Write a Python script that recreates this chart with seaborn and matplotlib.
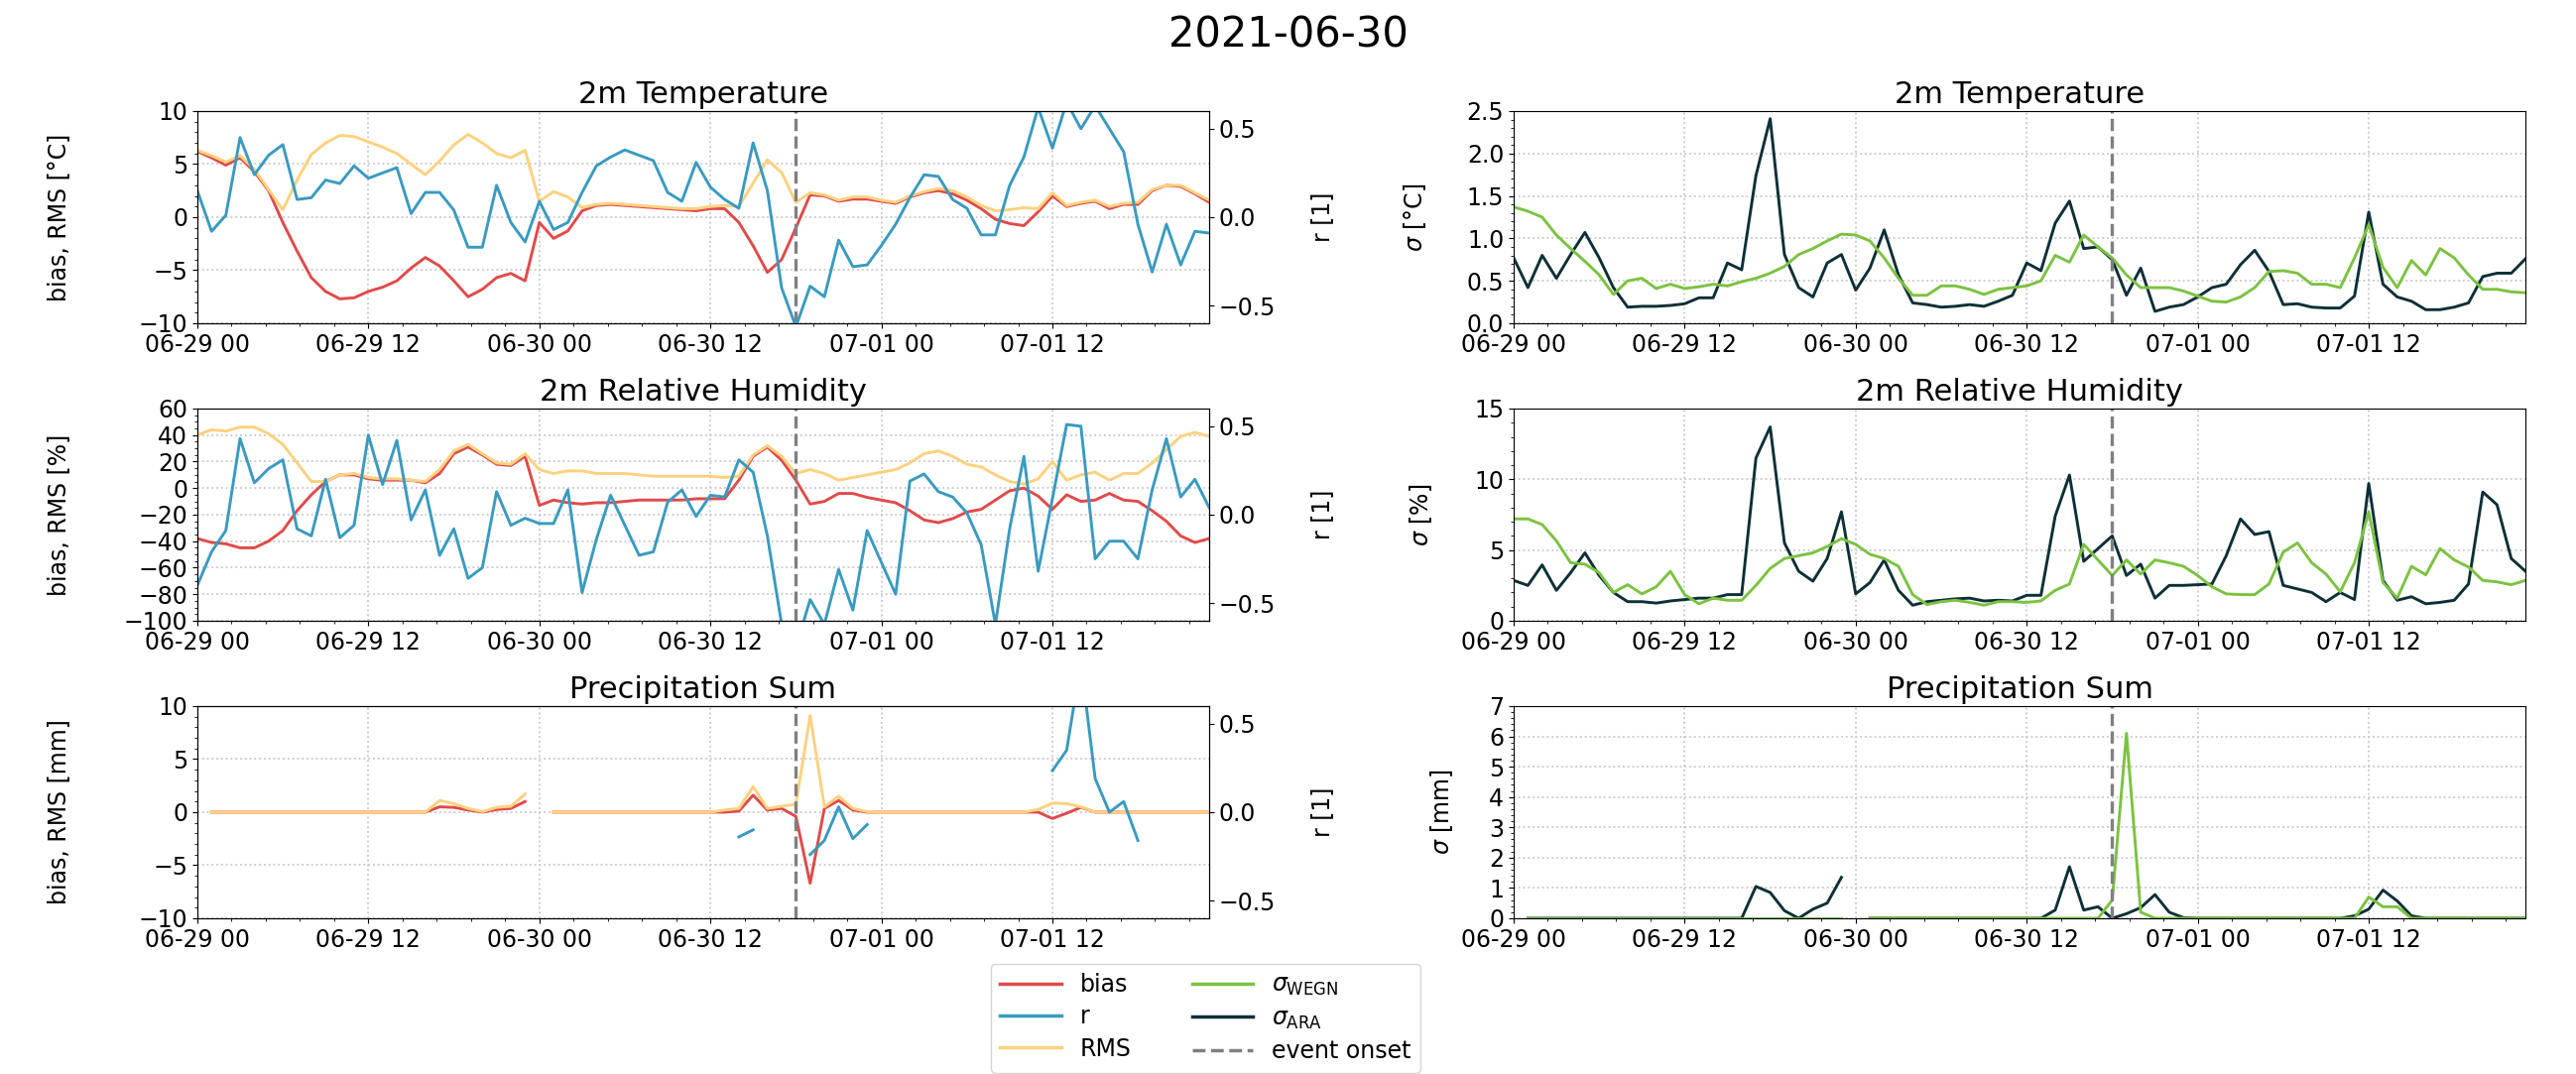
import seaborn as sns
import matplotlib.pyplot as plt
import matplotlib.dates as mdates
from matplotlib.ticker import AutoMinorLocator, MultipleLocator
from matplotlib.lines import Line2D
import numpy as np
import pandas as pd

nan = np.nan
times = pd.date_range('2021-06-29 00:00', periods=72, freq='h')
onset = pd.Timestamp('2021-06-30 18:00')

# 2m temperature
temp_bias = [6.2, 5.6, 4.9, 5.6, 4.3, 2.5, -0.5, -3.2, -5.7, -7.0, -7.7, -7.6, -7.0, -6.6, -6.0, -4.8, -3.8, -4.6, -6.0, -7.5, -6.8, -5.7, -5.3, -6.0,
             -0.5, -2.0, -1.3, 0.6, 1.1, 1.2, 1.1, 1.0, 0.9, 0.8, 0.7, 0.6, 0.8, 0.8, -0.5, -2.7, -5.2, -4.0, -1.0, 2.1, 2.0, 1.5, 1.7, 1.7,
             1.5, 1.3, 1.9, 2.3, 2.5, 2.2, 1.6, 0.8, -0.2, -0.6, -0.8, 0.5, 2.0, 1.0, 1.3, 1.5, 0.8, 1.2, 1.2, 2.5, 3.0, 2.9, 2.2, 1.4]
temp_rms = [6.3, 5.8, 5.2, 5.8, 4.5, 2.6, 0.7, 3.5, 5.9, 7.0, 7.7, 7.6, 7.1, 6.6, 6.0, 5.0, 4.0, 5.3, 6.8, 7.8, 7.0, 6.0, 5.6, 6.3,
            1.5, 2.4, 1.9, 0.9, 1.2, 1.3, 1.2, 1.1, 1.0, 0.9, 0.8, 0.8, 1.0, 1.1, 1.0, 3.2, 5.4, 4.2, 1.4, 2.3, 2.1, 1.6, 1.9, 1.9,
            1.6, 1.4, 2.0, 2.4, 2.7, 2.5, 1.9, 1.1, 0.6, 0.7, 0.9, 0.8, 2.3, 1.1, 1.4, 1.6, 1.0, 1.3, 1.4, 2.6, 3.0, 3.0, 2.3, 1.6]
temp_r = [0.15, -0.08, 0.01, 0.45, 0.24, 0.35, 0.41, 0.10, 0.11, 0.21, 0.19, 0.29, 0.22, 0.25, 0.28, 0.02, 0.14, 0.14, 0.04, -0.17, -0.17, 0.18, -0.03, -0.14,
          0.09, -0.07, -0.03, 0.14, 0.29, 0.34, 0.38, 0.35, 0.32, 0.14, 0.09, 0.31, 0.17, 0.10, 0.05, 0.42, 0.15, -0.40, -0.62, -0.39, -0.45, -0.13, -0.28, -0.27,
          -0.16, -0.04, 0.11, 0.24, 0.23, 0.10, 0.05, -0.10, -0.10, 0.18, 0.34, 0.62, 0.39, 0.65, 0.50, 0.63, 0.50, 0.37, -0.04, -0.31, -0.04, -0.27, -0.08, -0.09]
temp_wegn = [1.37, 1.32, 1.25, 1.04, 0.88, 0.73, 0.57, 0.34, 0.50, 0.53, 0.41, 0.46, 0.41, 0.43, 0.46, 0.44, 0.49, 0.53, 0.59, 0.67, 0.81, 0.88, 0.97, 1.05,
             1.04, 0.97, 0.77, 0.53, 0.33, 0.33, 0.44, 0.44, 0.40, 0.34, 0.40, 0.42, 0.44, 0.50, 0.80, 0.72, 1.04, 0.90, 0.77, 0.57, 0.42, 0.42, 0.42, 0.38,
             0.32, 0.26, 0.25, 0.31, 0.42, 0.61, 0.62, 0.59, 0.46, 0.46, 0.42, 0.77, 1.16, 0.66, 0.42, 0.74, 0.57, 0.88, 0.77, 0.57, 0.40, 0.40, 0.37, 0.36]
temp_ara = [0.77, 0.42, 0.80, 0.53, 0.81, 1.07, 0.77, 0.42, 0.19, 0.20, 0.20, 0.21, 0.23, 0.30, 0.30, 0.71, 0.63, 1.74, 2.41, 0.81, 0.42, 0.31, 0.71, 0.81,
            0.39, 0.65, 1.10, 0.57, 0.24, 0.22, 0.19, 0.20, 0.22, 0.20, 0.26, 0.33, 0.71, 0.62, 1.18, 1.44, 0.88, 0.90, 0.75, 0.33, 0.65, 0.14, 0.19, 0.22,
            0.31, 0.42, 0.46, 0.69, 0.86, 0.61, 0.22, 0.23, 0.19, 0.18, 0.18, 0.32, 1.31, 0.46, 0.31, 0.26, 0.16, 0.16, 0.19, 0.24, 0.55, 0.59, 0.59, 0.76]

# 2m relative humidity
rh_bias = [-38, -41, -42, -45, -45, -40, -32, -17, -5, 5, 10, 10, 7, 6, 6, 6, 4, 11, 26, 31, 25, 18, 17, 24,
           -13, -9, -11, -12, -11, -11, -10, -9, -9, -9, -9, -8, -8, -8, 6, 24, 31, 21, 6, -12, -10, -4, -4, -7,
           -9, -11, -17, -24, -26, -23, -18, -16, -9, -2, 0, -6, -16, -5, -10, -9, -4, -9, -10, -17, -25, -36, -41, -38]
rh_rms = [40, 44, 43, 46, 46, 41, 33, 19, 5, 5, 10, 11, 8, 7, 7, 6, 5, 14, 28, 33, 26, 19, 18, 26,
          14, 11, 13, 13, 11, 11, 11, 10, 9, 9, 9, 9, 9, 8, 9, 25, 32, 24, 11, 14, 11, 6, 8, 10,
          12, 14, 19, 26, 28, 24, 18, 16, 10, 5, 3, 7, 20, 6, 10, 12, 6, 11, 11, 19, 29, 39, 42, 39]
rh_r = [-0.40, -0.21, -0.09, 0.43, 0.18, 0.26, 0.31, -0.08, -0.12, 0.20, -0.13, -0.06, 0.45, 0.17, 0.42, -0.03, 0.14, -0.23, -0.08, -0.36, -0.30, 0.13, -0.06, -0.02,
        -0.05, -0.05, 0.14, -0.44, -0.14, 0.11, -0.06, -0.23, -0.21, 0.07, 0.14, -0.01, 0.11, 0.10, 0.31, 0.24, -0.12, -0.62, -0.75, -0.48, -0.62, -0.31, -0.54, -0.09,
        -0.27, -0.45, 0.19, 0.23, 0.13, 0.10, 0.01, -0.17, -0.62, -0.08, 0.33, -0.32, 0.09, 0.51, 0.50, -0.25, -0.15, -0.15, -0.25, 0.14, 0.43, 0.10, 0.20, 0.04]
rh_wegn = [7.2, 7.2, 6.8, 5.65, 4.1, 4.0, 3.4, 2.0, 2.55, 1.9, 2.4, 3.5, 1.85, 1.2, 1.6, 1.45, 1.45, 2.5, 3.7, 4.4, 4.6, 4.8, 5.25, 5.8,
           5.4, 4.7, 4.4, 3.85, 1.85, 1.15, 1.35, 1.45, 1.3, 1.1, 1.35, 1.35, 1.3, 1.4, 2.15, 2.6, 5.4, 4.3, 3.2, 4.3, 3.3, 4.3, 4.1, 3.85,
           3.2, 2.4, 1.9, 1.85, 1.85, 2.6, 4.85, 5.5, 4.1, 3.3, 2.05, 4.1, 7.7, 2.7, 1.6, 3.85, 3.25, 5.1, 4.3, 3.8, 2.85, 2.75, 2.55, 2.85]
rh_ara = [2.85, 2.5, 3.95, 2.15, 3.4, 4.8, 3.2, 2.0, 1.35, 1.35, 1.25, 1.4, 1.5, 1.6, 1.6, 1.85, 1.85, 11.5, 13.7, 5.5, 3.5, 2.8, 4.4, 7.7,
          1.9, 2.7, 4.3, 2.15, 1.1, 1.35, 1.45, 1.55, 1.6, 1.4, 1.45, 1.4, 1.8, 1.8, 7.4, 10.3, 4.2, 5.1, 6.0, 3.2, 4.0, 1.6, 2.5, 2.5,
          2.55, 2.6, 4.6, 7.2, 6.1, 6.3, 2.5, 2.25, 2.0, 1.35, 2.0, 1.5, 9.7, 2.85, 1.45, 1.7, 1.2, 1.3, 1.45, 2.6, 9.1, 8.2, 4.4, 3.5]

# precipitation sum
pr_bias = [nan, 0, 0, 0, 0, 0, 0, 0, 0, 0, 0, 0, 0, 0, 0, 0, 0, 0.5, 0.45, 0.2, 0.0, 0.25, 0.35, 1.0,
           nan, 0, 0, 0, 0, 0, 0, 0, 0, 0, 0, 0, 0, 0, 0.1, 1.6, 0.2, 0.35, -0.4, -6.7, 0.35, 1.1, 0.2, 0.0,
           0, 0, 0, 0, 0, 0, 0, 0, 0, 0, 0, 0, -0.6, -0.1, 0.45, 0, 0, 0, 0, 0, 0, 0, 0, 0]
pr_rms = [nan, 0, 0, 0, 0, 0, 0, 0, 0, 0, 0, 0, 0, 0, 0, 0, 0, 1.1, 0.8, 0.35, 0.05, 0.45, 0.55, 1.7,
          nan, 0, 0, 0, 0, 0, 0, 0, 0, 0, 0, 0, 0, 0.2, 0.35, 2.4, 0.35, 0.55, 0.75, 9.1, 0.5, 1.5, 0.35, 0.05,
          0, 0, 0, 0, 0, 0, 0, 0, 0, 0, 0, 0.25, 0.85, 0.8, 0.5, 0, 0, 0, 0, 0, 0, 0, 0, 0]
pr_r = [nan] * 38 + [-0.14, -0.10, nan, nan, nan, -0.24, -0.16, 0.03, -0.15, -0.07] + [nan] * 12 + \
       [0.235, 0.35, 0.85, 0.19, 0.0, 0.06, -0.16] + [nan] * 5
pr_wegn = [nan] + [0] * 23 + [nan] + [0] * 17 + [0.6, 6.1, 0.2] + [0] * 15 + [0.7, 0.38, 0.38] + [0] * 9
pr_ara = [nan, 0, 0, 0, 0, 0, 0, 0, 0, 0, 0, 0, 0, 0, 0, 0, 0, 1.05, 0.85, 0.25, 0.0, 0.3, 0.5, 1.35,
          nan, 0, 0, 0, 0, 0, 0, 0, 0, 0, 0, 0, 0, 0, 0.27, 1.7, 0.27, 0.38, 0.0, 0.15, 0.35, 0.78, 0.2, 0.02,
          0, 0, 0, 0, 0, 0, 0, 0, 0, 0, 0, 0.08, 0.3, 0.93, 0.57, 0.08, 0, 0, 0, 0, 0, 0, 0, 0]

titles = ['2m Temperature', '2m Relative Humidity', 'Precipitation Sum']
units = ['°C', '%', 'mm']

c_bias = '#e04a4a'
c_r = '#3a9ac0'
c_rms = '#fdd17f'
c_wegn = '#7cc242'
c_ara = '#0d2f37'
c_event = '#808080'

plt.rcParams['font.family'] = ['DejaVu Sans']
plt.rcParams['font.size'] = 17
plt.rcParams['mathtext.fontset'] = 'dejavusans'
FS = 17


def draw(ax, y, color, lw=2.1):
    # seaborn drops NaNs, so plot each gap-free run on its own
    s = pd.Series(y, index=times, dtype=float)
    ok = s.notna()
    grp = (ok != ok.shift()).cumsum()
    for _, seg in s[ok].groupby(grp[ok]):
        df = pd.DataFrame({'time': seg.index, 'val': seg.values})
        sns.lineplot(data=df, x='time', y='val', ax=ax, color=color,
                     lw=lw, legend=False, estimator=None)


def style_x(ax):
    ax.set_xlim(times[0], times[-1])
    ax.xaxis.set_major_locator(mdates.HourLocator(byhour=[0, 12]))
    ax.xaxis.set_major_formatter(mdates.DateFormatter('%m-%d %H'))
    ax.xaxis.set_minor_locator(AutoMinorLocator())
    ax.yaxis.set_minor_locator(AutoMinorLocator())
    ax.grid(True, which='major', ls=':', color='#c8c8c8', lw=1.3)
    ax.set_xlabel('')
    ax.tick_params(labelsize=FS)


fig = plt.figure(figsize=(25.97, 10.83), dpi=100)
fig.suptitle('2021-06-30', fontsize=30, y=0.967, va='center')

left_data = [(temp_bias, temp_rms, temp_r), (rh_bias, rh_rms, rh_r), (pr_bias, pr_rms, pr_r)]
right_data = [(temp_wegn, temp_ara), (rh_wegn, rh_ara), (pr_wegn, pr_ara)]
left_lims = [(-10, 10), (-100, 60), (-10, 10)]
left_steps = [5, 20, 5]
right_lims = [(0, 2.5), (0, 15), (0, 7)]
right_steps = [0.5, 5, 1]
sig_lab_x = [-0.084, -0.078, -0.058]
row_y = [0.699, 0.422, 0.145]
h = 0.1976

for i in range(3):
    ax = fig.add_axes([0.0766, row_y[i], 0.3928, h])
    bias, rms, r = left_data[i]
    draw(ax, bias, c_bias)
    draw(ax, rms, c_rms)
    ax.set_ylim(*left_lims[i])
    ax.yaxis.set_major_locator(MultipleLocator(left_steps[i]))
    style_x(ax)
    ax.axvline(onset, color=c_event, ls='--', lw=2.4)
    ax.set_ylabel(f'bias, RMS [{units[i]}]', fontsize=FS)
    ax.yaxis.set_label_coords(-0.125, 0.5)
    ax.set_title(titles[i], fontsize=22)

    ax2 = ax.twinx()
    draw(ax2, r, c_r)
    ax2.set_ylim(-0.6, 0.6)
    ax2.set_yticks([-0.5, 0.0, 0.5])
    ax2.set_xlim(times[0], times[-1])
    ax2.set_xlabel('')
    ax2.set_ylabel('r [1]', fontsize=FS)
    ax2.yaxis.set_label_coords(1.10, 0.5)
    ax2.tick_params(labelsize=FS)

    ax3 = fig.add_axes([0.5876, row_y[i], 0.3928, h])
    wegn, ara = right_data[i]
    draw(ax3, ara, c_ara)
    draw(ax3, wegn, c_wegn)
    ax3.set_ylim(*right_lims[i])
    ax3.yaxis.set_major_locator(MultipleLocator(right_steps[i]))
    style_x(ax3)
    ax3.axvline(onset, color=c_event, ls='--', lw=2.4)
    ax3.set_ylabel(r'$\sigma$ [' + units[i] + ']', fontsize=FS)
    ax3.yaxis.set_label_coords(sig_lab_x[i], 0.5)
    ax3.set_title(titles[i], fontsize=22)

handles = [Line2D([], [], color=c_bias, lw=2.5), Line2D([], [], color=c_r, lw=2.5),
           Line2D([], [], color=c_rms, lw=2.5), Line2D([], [], color=c_wegn, lw=2.5),
           Line2D([], [], color=c_ara, lw=2.5), Line2D([], [], color=c_event, lw=2.5, ls='--')]
labels = ['bias', 'r', 'RMS', r'$\sigma_{\mathrm{WEGN}}$', r'$\sigma_{\mathrm{ARA}}$', 'event onset']
fig.legend(handles, labels, ncol=2, loc='center', bbox_to_anchor=(0.468, 0.052),
           fontsize=FS, handlelength=2.6, columnspacing=2.6, labelspacing=0.35)

plt.savefig('out.png', dpi=100)
